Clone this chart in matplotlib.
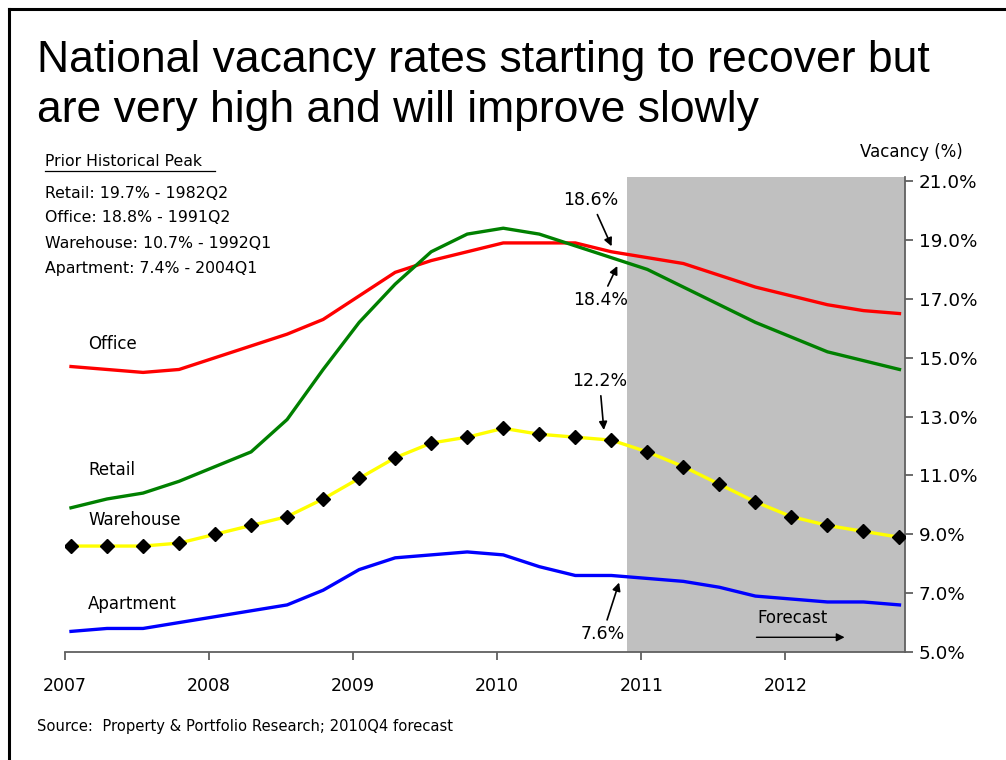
import numpy as np
import matplotlib
matplotlib.use('Agg')
import matplotlib.pyplot as plt
from matplotlib.lines import Line2D

# Dades trimestrals 2007Q1 - 2012Q4 (vacancy %)
quarters = ['%dQ%d' % (y, q) for y in range(2007, 2013) for q in range(1, 5)]
office = [14.7, 14.6, 14.5, 14.6, 15.0, 15.4, 15.8, 16.3, 17.1, 17.9, 18.3, 18.6,
          18.9, 18.9, 18.9, 18.6, 18.4, 18.2, 17.8, 17.4, 17.1, 16.8, 16.6, 16.5]
retail = [9.9, 10.2, 10.4, 10.8, 11.3, 11.8, 12.9, 14.6, 16.2, 17.5, 18.6, 19.2,
          19.4, 19.2, 18.8, 18.4, 18.0, 17.4, 16.8, 16.2, 15.7, 15.2, 14.9, 14.6]
warehouse = [8.6, 8.6, 8.6, 8.7, 9.0, 9.3, 9.6, 10.2, 10.9, 11.6, 12.1, 12.3,
             12.6, 12.4, 12.3, 12.2, 11.8, 11.3, 10.7, 10.1, 9.6, 9.3, 9.1, 8.9]
apartment = [5.7, 5.8, 5.8, 6.0, 6.2, 6.4, 6.6, 7.1, 7.8, 8.2, 8.3, 8.4,
             8.3, 7.9, 7.6, 7.6, 7.5, 7.4, 7.2, 6.9, 6.8, 6.7, 6.7, 6.6]
year_ticks = [2007, 2008, 2009, 2010, 2011, 2012]
y_ticks = [5, 7, 9, 11, 13, 15, 17, 19, 21]
forecast_start = 2010.9

peaks = ['Retail: 19.7% - 1982Q2', 'Office: 18.8% - 1991Q2',
         'Warehouse: 10.7% - 1992Q1', 'Apartment: 7.4% - 2004Q1']

# posicio x de cada trimestre (a meitat del primer mes)
x = np.array([int(q[:4]) + (int(q[-1]) - 1) * 0.25 + 1 / 24 for q in quarters])

W, H = 1006, 760
fig = plt.figure(figsize=(W / 100, H / 100), dpi=100)
fx = lambda px: px / W
fy = lambda py: 1 - py / H

# eixos en píxels: esquerra 65, dreta 905, dalt 177, baix 652
ax = fig.add_axes([fx(65), fy(652), (905 - 65) / W, (652 - 177) / H])
ax.set_xlim(2007, 2012.83)
ax.set_ylim(5, 21.14)

ax.axvspan(forecast_start, 2012.83, facecolor='#c0c0c0', edgecolor='none', zorder=0)

ax.plot(x, office, color='#ff0000', lw=2.4, zorder=3)
ax.plot(x, retail, color='#008000', lw=2.4, zorder=3)
ax.plot(x, warehouse, color='#ffff00', lw=2.4, zorder=3,
        marker='D', markersize=7.5, markerfacecolor='black', markeredgecolor='black')
ax.plot(x, apartment, color='#0000ff', lw=2.4, zorder=3)

for s in ['left', 'top']:
    ax.spines[s].set_visible(False)
for s in ['right', 'bottom']:
    ax.spines[s].set_color('#606060')
    ax.spines[s].set_linewidth(1.3)

ax.yaxis.tick_right()
ax.set_yticks(y_ticks)
ax.set_yticklabels(['%.1f%%' % v for v in y_ticks])
ax.set_xticks(year_ticks)
ax.set_xticklabels([str(v) for v in year_ticks])
ax.tick_params(axis='both', colors='#606060', labelcolor='black', labelsize=12.5,
               length=6, width=1.3)
ax.tick_params(axis='y', labelsize=13.2, pad=4)
ax.tick_params(axis='x', pad=12)

sfont = dict(family='DejaVu Sans', color='black')

# etiquetes de les sèries
ax.text(2007.16, 15.3, 'Office', fontsize=12, **sfont)
ax.text(2007.16, 11.0, 'Retail', fontsize=12, **sfont)
ax.text(2007.16, 9.3, 'Warehouse', fontsize=12, **sfont)
ax.text(2007.16, 6.45, 'Apartment', fontsize=12, **sfont)

# anotacions
arr = dict(arrowstyle='-|>', color='black', lw=1.2, mutation_scale=12)
ax.annotate('18.6%', xy=(x[15] + 0.01, 18.7), xytext=(2010.65, 20.35),
            ha='center', va='center', fontsize=12.5, arrowprops=arr, **sfont)
ax.annotate('18.4%', xy=(x[15] + 0.05, 18.2), xytext=(2010.72, 16.95),
            ha='center', va='center', fontsize=12.5, arrowprops=arr, **sfont)
ax.annotate('12.2%', xy=(x[15] - 0.05, 12.45), xytext=(2010.71, 14.2),
            ha='center', va='center', fontsize=12.5, arrowprops=arr, **sfont)
ax.annotate('7.6%', xy=(x[15] + 0.06, 7.45), xytext=(2010.73, 5.6),
            ha='center', va='center', fontsize=12.5, arrowprops=arr, **sfont)
ax.annotate('', xy=(2012.43, 5.5), xytext=(2011.78, 5.5),
            arrowprops=dict(arrowstyle='-|>', color='black', lw=1.0, mutation_scale=12))
ax.text(2012.05, 6.15, 'Forecast', ha='center', va='center', fontsize=12, **sfont)

# títol
fig.text(fx(37), fy(72), 'National vacancy rates starting to recover but',
         family='Liberation Sans', fontsize=32, va='baseline')
fig.text(fx(37), fy(122), 'are very high and will improve slowly',
         family='Liberation Sans', fontsize=32, va='baseline')

# pic històric
fig.text(fx(45), fy(161), 'Prior Historical Peak', fontsize=11.3, va='center', **sfont)
fig.add_artist(Line2D([fx(45), fx(215)], [fy(171), fy(171)], color='black', lw=0.9))
for i, t in enumerate(peaks):
    fig.text(fx(45), fy(193 + 25 * i), t, fontsize=11.3, va='center', **sfont)

fig.text(fx(911), fy(152), 'Vacancy (%)', ha='center', va='center', fontsize=12, **sfont)
fig.text(fx(37), fy(727), 'Source:  Property & Portfolio Research; 2010Q4 forecast',
         fontsize=10.6, va='center', **sfont)

# marc de la diapositiva
fig.add_artist(Line2D([fx(9), fx(9)], [0, fy(9)], color='black', lw=2.2))
fig.add_artist(Line2D([fx(9), 1], [fy(9), fy(9)], color='black', lw=2.2))

fig.savefig('out.png', dpi=100)
